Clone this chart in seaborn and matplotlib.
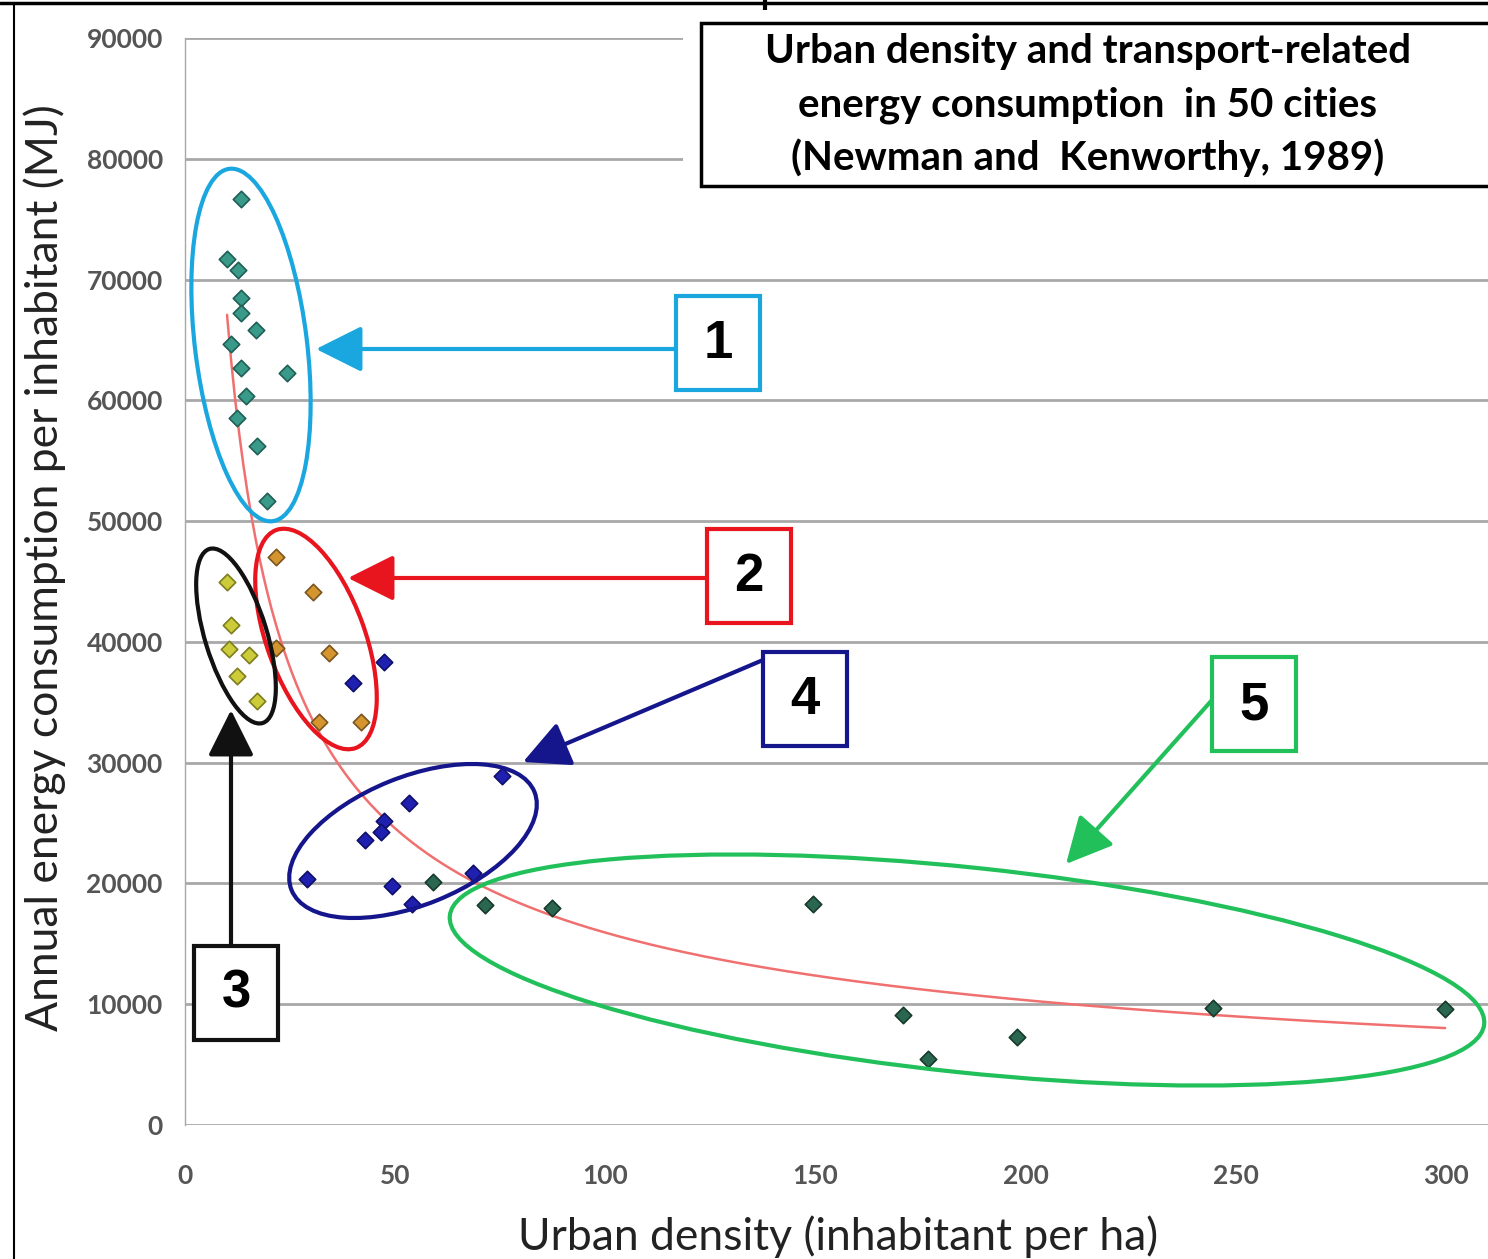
import numpy as np
import pandas as pd
import seaborn as sns
import matplotlib.pyplot as plt
from matplotlib.patches import Ellipse, Rectangle
from matplotlib.transforms import IdentityTransform

# values (density in inhabitants/ha, energy in MJ)
g1_density = [13.3, 10.0, 12.6, 13.3, 13.3, 16.9, 10.9, 13.3, 24.3, 14.5, 12.4, 17.1, 19.5]
g1_energy = [76700, 71700, 70800, 68500, 67200, 65800, 64700, 62700, 62300, 60400, 58500, 56200, 51700]
g2_density = [21.7, 30.5, 21.7, 34.3, 31.9, 41.9]
g2_energy = [47000, 44100, 39500, 39100, 33400, 33400]
g3_density = [10.0, 10.9, 10.5, 15.2, 12.4, 17.1]
g3_energy = [45000, 41400, 39400, 38900, 37200, 35100]
g4_density = [47.3, 40.0, 75.4, 53.3, 47.3, 46.6, 42.8, 29.0, 49.2, 54.0, 68.5]
g4_energy = [38300, 36600, 28900, 26700, 25200, 24300, 23600, 20400, 19800, 18300, 20900]
g5_density = [59.0, 71.4, 87.3, 149.4, 170.8, 176.8, 198.0, 244.6, 299.8]
g5_energy = [20100, 18200, 18000, 18300, 9100, 5500, 7300, 9700, 9600]

groups = ["1", "2", "3", "4", "5"]
fill = {"1": "#3a9a8a", "2": "#d4952e", "3": "#cccc3a", "4": "#1f1fb0", "5": "#2b6650"}
edge = {"1": "#1f5f55", "2": "#7a5520", "3": "#7d7d20", "4": "#10106a", "5": "#173a2c"}

df = pd.concat([
    pd.DataFrame({"density": d, "energy": e, "group": g})
    for g, d, e in zip(groups,
                       [g1_density, g2_density, g3_density, g4_density, g5_density],
                       [g1_energy, g2_energy, g3_energy, g4_energy, g5_energy])
], ignore_index=True)

W, H = 1488, 1259
fig = plt.figure(figsize=(W / 100, H / 100), dpi=100)
sns.set_style("white")
plt.rcParams['font.family'] = ['Lato', 'DejaVu Sans']
ax = fig.add_axes([185 / W, 1 - 1125 / H, 1 - 185 / W, (1125 - 38) / H])

# power trend line fitted on all cities (like the excel trendline)
b, a = np.polyfit(np.log(df["density"]), np.log(df["energy"]), 1)
xs = np.linspace(df["density"].min(), df["density"].max(), 300)
ax.plot(xs, np.exp(a) * xs ** b, color="#f07070", lw=1.8, zorder=2)

for g in groups:
    sub = df[df["group"] == g]
    sns.scatterplot(data=sub, x="density", y="energy", ax=ax, marker="D", s=70,
                    color=fill[g], edgecolor=edge[g], linewidth=1.2, zorder=3, legend=False)

ax.set_xlim(0, 310)
ax.set_ylim(0, 90000)
ax.set_xticks(range(0, 301, 50))
ax.set_yticks(range(0, 90001, 10000))
ax.yaxis.grid(True, color="#a8a8a8", lw=2)
ax.xaxis.grid(False)
for s in ["top", "right", "bottom"]:
    ax.spines[s].set_visible(False)
ax.spines["left"].set_color("#a8a8a8")
ax.spines["left"].set_linewidth(1)
ax.tick_params(axis="y", length=7, width=1, color="#a8a8a8", pad=9, labelsize=19, labelcolor="#555555")
ax.tick_params(axis="x", length=6, width=1, color="#a8a8a8", pad=22, labelsize=19, labelcolor="#555555")
for t in ax.get_xticklabels() + ax.get_yticklabels():
    t.set_fontweight("bold")
ax.set_xlabel("")
ax.set_ylabel("")

fig.text(45 / W, 1 - 568 / H, "Annual energy consumption per inhabitant (MJ)", rotation=90,
         ha="center", va="center", fontsize=32, color="#222222")
fig.text(838 / W, 1 - 1237 / H, "Urban density (inhabitant per ha)", ha="center", va="center",
         fontsize=32, color="#222222")

def px(x, y):
    return (x, H - y)

# title box (white background hides grid lines behind it)
fig.patches.append(Rectangle(px(683, 200), 810, 190, transform=IdentityTransform(),
                             facecolor="white", edgecolor="none", zorder=5))
fig.patches.append(Rectangle(px(701, 186), 800, 163, transform=IdentityTransform(),
                             facecolor="white", edgecolor="black", lw=2.5, zorder=6))
title_lines = ["Urban density and transport-related",
               "energy consumption  in 50 cities",
               "(Newman and  Kenworthy, 1989)"]
for i, line in enumerate(title_lines):
    fig.text(1088 / W, 1 - (52 + 53 * i) / H, line, ha="center", va="center",
             fontsize=29, fontweight="bold", color="black", zorder=7)

# group ellipses: centre, width, height (pixels), angle, colour
ellipses = [
    ((251, 345), 112, 355, 7, "#1aa7e0"),
    ((316, 639), 98, 232, 20, "#e8141e"),
    ((236, 636), 62, 182, 17, "#111111"),
    ((413, 841), 262, 128, 22, "#16168c"),
    ((967, 970), 1040, 205, -6, "#22c05a"),
]
for (cx, cy), w, h, ang, c in ellipses:
    fig.patches.append(Ellipse(px(cx, cy), w, h, angle=ang, transform=IdentityTransform(),
                               fill=False, edgecolor=c, lw=3, zorder=4))

# numbered boxes and arrows: label, box left/top, arrow start, arrow tip, colour
callouts = [
    ("1", (676, 296), (676, 349), (316, 349), "#1aa7e0"),
    ("2", (707, 529), (707, 578), (348, 578), "#e8141e"),
    ("4", (763, 652), (763, 660), (523, 762), "#16168c"),
    ("5", (1212, 657), (1212, 700), (1066, 864), "#22c05a"),
    ("3", (194, 946), (231, 946), (231, 710), "#111111"),
]
for lab, (bx, by), start, tip, c in callouts:
    fig.patches.append(Rectangle(px(bx, by + 94), 84, 94, transform=IdentityTransform(),
                                 facecolor="white", edgecolor=c, lw=3, zorder=8))
    fig.text((bx + 42) / W, 1 - (by + 48) / H, lab, ha="center", va="center", fontsize=38,
             fontweight="bold", family=["Liberation Sans", "DejaVu Sans"], color="black", zorder=9)
    ax.annotate("", xy=px(*tip), xycoords="figure pixels", xytext=px(*start),
                textcoords="figure pixels", zorder=8,
                arrowprops=dict(arrowstyle="-|>,head_length=1.3,head_width=0.65",
                                mutation_scale=22, color=c, lw=3, shrinkA=0, shrinkB=0))

# outer frame of the original screenshot
fig.add_artist(plt.Line2D([0, 1], [1 - 3 / H, 1 - 3 / H], transform=fig.transFigure, color="black", lw=2.5))
fig.add_artist(plt.Line2D([14 / W, 14 / W], [0, 1 - 3 / H], transform=fig.transFigure, color="black", lw=1.5))
fig.add_artist(plt.Line2D([765 / W, 765 / W], [1 - 20 / H, 1], transform=fig.transFigure, color="black", lw=3))

fig.savefig("out.png", dpi=100)
